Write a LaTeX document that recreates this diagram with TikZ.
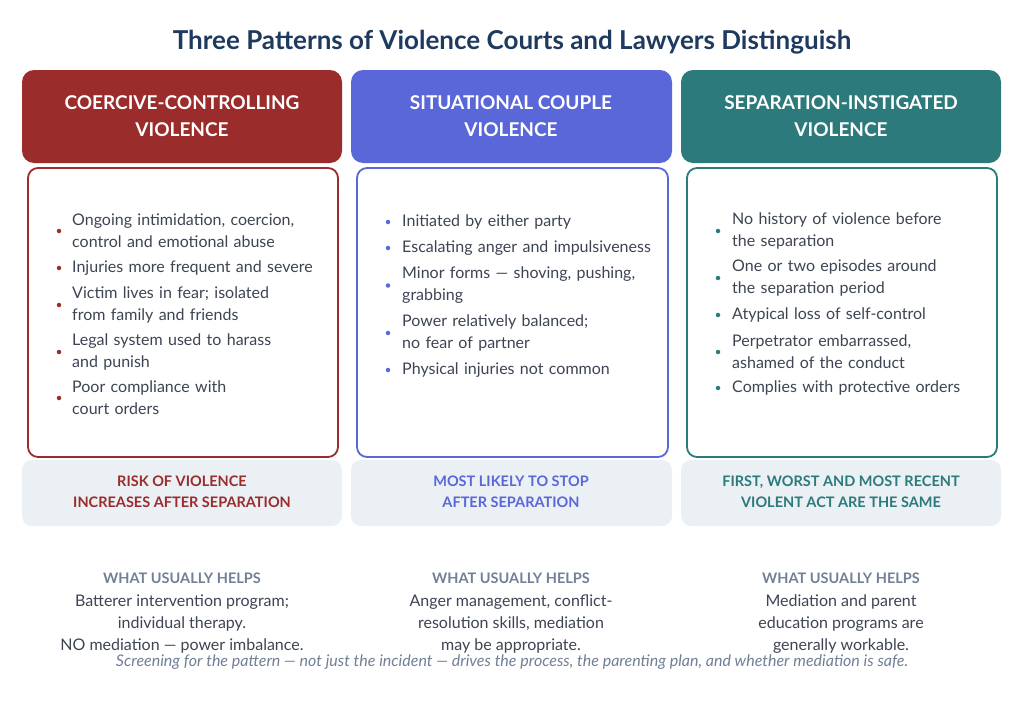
\documentclass[tikz,border=0pt]{standalone}
\usepackage{fontspec}
\setmainfont{Lato}
\begin{document}
\begin{tikzpicture}[x=1pt,y=-1pt,
  hdr/.style={rounded corners=12pt,fill=#1},
  hdrtxt/.style={text=white,font=\fontsize{19}{27}\selectfont\bfseries,align=center},
  body/.style={draw=#1,line width=1.8pt,rounded corners=10pt},
  foot/.style={rounded corners=10pt,fill=footbg},
  foottxt/.style={text=#1,font=\fontsize{14.5}{21}\selectfont\bfseries,align=center},
  item/.style={anchor=west,text=bodyc,font=\fontsize{16}{22}\selectfont,align=left,inner sep=0pt,text width=265pt},
  dot/.style={circle,fill=#1,inner sep=0pt,minimum size=4.5pt},
  helpl/.style={text=grayc,font=\fontsize{14.5}{20}\selectfont\bfseries},
  helpt/.style={text=bodyc,font=\fontsize{16}{22}\selectfont,align=center}]
\definecolor{redc}{HTML}{9B2C2C}
\definecolor{bluec}{HTML}{5A67D8}
\definecolor{tealc}{HTML}{2C7A7B}
\definecolor{titlec}{HTML}{1F3A5F}
\definecolor{bodyc}{HTML}{3D4452}
\definecolor{grayc}{HTML}{718096}
\definecolor{footbg}{HTML}{EBF0F5}
\useasboundingbox (0,0) rectangle (1024,701);
\fill[white] (0,0) rectangle (1024,701);
\node[text=titlec,font=\fontsize{26}{30}\selectfont\bfseries] (title) at (512,42) {Three Patterns of Violence Courts and Lawyers Distinguish};
% headers
\fill[hdr=redc] (22,70) rectangle (342,163);
\fill[hdr=bluec] (351,70) rectangle (672,163);
\fill[hdr=tealc] (681,70) rectangle (1001,163);
\node[hdrtxt] (h1) at (182,116) {COERCIVE-CONTROLLING\\VIOLENCE};
\node[hdrtxt] (h2) at (511,116) {SITUATIONAL COUPLE\\VIOLENCE};
\node[hdrtxt] (h3) at (841,116) {SEPARATION-INSTIGATED\\VIOLENCE};
% bodies
\draw[body=redc] (28,168) rectangle (338,457);
\draw[body=bluec] (357,168) rectangle (668,457);
\draw[body=tealc] (687,168) rectangle (997,457);
% column 1
\foreach \y/\t in {231/{Ongoing intimidation, coercion,\\control and emotional abuse},268/{Injuries more frequent and severe},305/{Victim lives in fear; isolated\\from family and friends},352/{Legal system used to harass\\and punish},398/{Poor compliance with\\court orders}}{
  \node[dot=redc] at (59,\y) {};
  \node[item] at (72,\y) {\t};}
% column 2
\foreach \y/\t in {222/{Initiated by either party},248/{Escalating anger and impulsiveness},285.5/{Minor forms — shoving, pushing,\\grabbing},333/{Power relatively balanced;\\no fear of partner},370/{Physical injuries not common}}{
  \node[dot=bluec] at (388,\y) {};
  \node[item] at (402,\y) {\t};}
% column 3
\foreach \y/\t in {231/{No history of violence before\\the separation},278/{One or two episodes around\\the separation period},315/{Atypical loss of self-control},352/{Perpetrator embarrassed,\\ashamed of the conduct},388/{Complies with protective orders}}{
  \node[dot=tealc] at (718,\y) {};
  \node[item] at (732,\y) {\t};}
% footers
\fill[foot] (22,460) rectangle (342,526);
\fill[foot] (351,460) rectangle (672,526);
\fill[foot] (681,460) rectangle (1001,526);
\node[foottxt=redc] (f1) at (182,492) {RISK OF VIOLENCE\\INCREASES AFTER SEPARATION};
\node[foottxt=bluec] (f2) at (511,492) {MOST LIKELY TO STOP\\AFTER SEPARATION};
\node[foottxt=tealc] (f3) at (841,492) {FIRST, WORST AND MOST RECENT\\VIOLENT ACT ARE THE SAME};
% helps
\node[helpl] (l1) at (182,578) {WHAT USUALLY HELPS};
\node[helpl] (l2) at (511,578) {WHAT USUALLY HELPS};
\node[helpl] (l3) at (841,578) {WHAT USUALLY HELPS};
\node[helpt,anchor=north] (t1) at (182,591) {Batterer intervention program;\\individual therapy.\\NO mediation — power imbalance.};
\node[helpt,anchor=north] (t2) at (511,591) {Anger management, conflict-\\resolution skills, mediation\\may be appropriate.};
\node[helpt,anchor=north] (t3) at (841,591) {Mediation and parent\\education programs are\\generally workable.};
\node[text=grayc,font=\fontsize{16}{20}\selectfont\itshape] (note) at (512,662) {Screening for the pattern — not just the incident — drives the process, the parenting plan, and whether mediation is safe.};
\end{tikzpicture}
\end{document}
